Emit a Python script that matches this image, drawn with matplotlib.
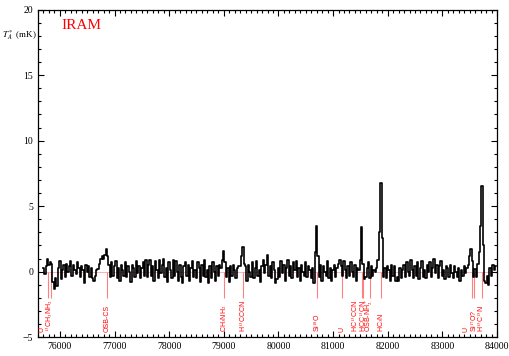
import numpy as np
import matplotlib.pyplot as plt
from matplotlib.ticker import MultipleLocator

# spectrum, 25 MHz channels starting at 75700 MHz (values in mK)
f0 = 75700
df = 25
ta = [
    0.3, -0.2, 0.4, 1.0,   0.5, 0.7, 0.6, -0.8,   -1.3, -0.5, -1.1, 0.3,   0.8, -0.6, 0.1, 0.5,
    -0.4, 0.6, 0.0, 0.4,   0.8, -0.3, 0.5, 0.1,   -0.2, 0.7, 0.3, -0.4,   0.4, 0.1, -0.9, 0.5,
    0.0, 0.4, -0.4, 0.3,   -0.5, -0.7, -0.3, 0.1,   0.2, 0.6, 1.0, 1.2,   1.0, 1.3, 1.7, 1.2,
    0.5, -0.4, 0.7, -0.3,   0.4, 0.8, -0.5, 0.3,   -0.7, 0.5, 0.1, -0.3,   0.7, -0.4, 0.4, 0.0,
    -0.8, 0.5, 0.3, -0.4,   0.8, -0.1, 0.4, -0.5,   0.3, 0.7, -0.3, 0.9,   -0.4, 0.5, 0.9, -0.3,
    0.4, -0.7, 0.8, 0.1,   -0.5, 0.9, -0.1, 0.5,   1.0, -0.4, 0.3, -0.8,   0.7, 0.1, -0.5, 0.9,
    -0.3, 0.8, 0.0, -0.7,   0.5, -0.4, -0.9, 0.4,   0.7, -0.3, 0.5, -0.7,   0.3, 0.8, -0.4, 0.1,
    -0.5, 0.7, 0.3, -0.8,   0.5, -0.3, 0.9, -0.4,   0.1, -0.9, 0.4, -0.5,   0.7, 0.0, -0.7, 0.4,
    -0.3, 0.5, 0.3, 0.9,   1.6, 0.7, -0.4, 0.3,   -0.8, 0.4, -0.3, 0.5,   0.1, -0.5, 0.3, 0.4,
    0.4, 1.2, 1.9, 0.6,   0.4, -0.7, 0.5, 0.0,   -0.4, 0.7, -0.5, 0.3,   0.8, -0.3, 0.1, -0.8,
    0.4, 0.9, -0.1, 0.5,   1.3, -0.3, 0.4, -0.5,   0.7, 0.1, -0.9, -0.6,   0.3, -0.4, 0.8, -0.1,
    0.5, -0.7, 0.3, 0.9,   -0.3, 0.4, -0.5, 0.7,   0.1, 0.8, -0.4, 0.3,   -0.7, 0.5, 0.0, -0.3,
    0.7, -0.4, 0.4, 0.1,   -0.5, 0.3, -0.85, 1.5,   3.5, 1.2, -0.4, 0.5,   -0.7, 0.4, 0.0, -0.3,
    0.8, -0.5, 0.3, -0.7,   0.1, 0.5, -0.4, 0.3,   0.6, 0.9, 0.4, -0.3,   0.8, 0.1, -0.5, 0.4,
    -0.3, 0.7, 0.0, -0.4,   0.5, -0.7, 0.3, 0.1,   0.9, 3.4, 0.6, -0.6,   -0.4, 0.3, 0.75, -0.5,
    0.4, -0.3, 0.1, 0.0,   0.3, 0.9, 3.0, 6.8,   2.6, -0.4, 0.3, -0.5,   0.4, 0.1, -0.7, 0.5,
    -0.3, 0.4, -0.7, -0.4,   -0.7, 0.3, -0.5, 0.1,   0.5, -0.4, 0.7, 0.0,   -0.3, 0.9, 0.1, -0.5,
    0.4, -0.3, 0.7, -0.6,   0.3, 0.8, -0.4, 0.1,   -0.5, 0.5, 0.0, 0.7,   -0.4, 0.3, 1.0, -0.1,
    0.5, -0.5, 0.4, 0.8,   -0.3, 0.1, -0.6, 0.4,   0.3, -0.4, 0.5, -0.1,   -0.5, 0.4, 0.0, -0.4,
    0.3, -0.7, 0.1, -0.3,   0.4, -0.1, 0.3, 0.5,   1.2, 1.7, 0.8, -0.4,   0.2, -0.4, 0.6, 1.5,
    3.5, 6.5, 2.0, -0.7,   -0.9, -0.3, -1.0, 0.3,   -0.3, 0.5, 0.1, 0.4,
]
freq = f0 + df * np.arange(len(ta))

# line identifications (MHz)
line_freq = [75775, 75835, 76866, 79004, 79350, 80701, 81159, 81526, 81541,
             81678, 81874, 83540, 83582, 83723]
label_freq = [75665, 75817, 76866, 79000, 79350, 80701, 81159, 81405, 81540,
              81672, 81874, 83440, 83582, 83710]
line_names = ['U', r'$^{13}$CH$_3$NH$_2$', 'OSB-CS', r'CH$_3$NH$_2$', r'H$^{13}$CCCN',
              r'Si$^{18}$O', 'U', r'HC$^{13}$CCN', r'HCC$^{13}$CN', r'OSB-NH$_2^+$',
              r'HC$_3$N', 'U', r'Si$^{17}$O?', r'H$^{13}$C$^{15}$N']

plt.rcParams['font.family'] = 'Liberation Serif'
plt.rcParams['mathtext.fontset'] = 'stix'

fig = plt.figure(figsize=(5.09, 3.56), dpi=100)
ax = fig.add_axes([0.0747, 0.053, 0.9017, 0.920])

ax.axhline(0, color='#ffb0b0', lw=0.7, zorder=1)
ax.vlines(line_freq, -2, 0, color='#ff8080', lw=0.8, zorder=1)
ax.plot(freq, ta, color='black', lw=1.2, drawstyle='steps-mid', zorder=2)

for fx, name in zip(label_freq, line_names):
    ax.text(fx, -4.6, name, rotation=90, ha='center', va='bottom', color='red',
            fontsize=5, family='Liberation Sans')

ax.set_xlim(75600, 84000)
ax.set_ylim(-5, 20)
ax.xaxis.set_major_locator(MultipleLocator(1000))
ax.xaxis.set_minor_locator(MultipleLocator(100))
ax.yaxis.set_major_locator(MultipleLocator(5))
ax.yaxis.set_minor_locator(MultipleLocator(1))
ax.tick_params(which='both', direction='in', top=True, right=True, labelsize=7, width=0.8)
ax.tick_params(which='major', length=4)
ax.tick_params(which='minor', length=2)
for s in ax.spines.values():
    s.set_linewidth(0.9)

ax.text(0.052, 0.97, 'IRAM', transform=ax.transAxes, color='red', fontsize=11,
        ha='left', va='top')
fig.text(37 / 509, 1 - 35 / 356, r'$T_A^*$ (mK)', ha='right', va='center', fontsize=6.5)

fig.savefig('out.png', dpi=100)
